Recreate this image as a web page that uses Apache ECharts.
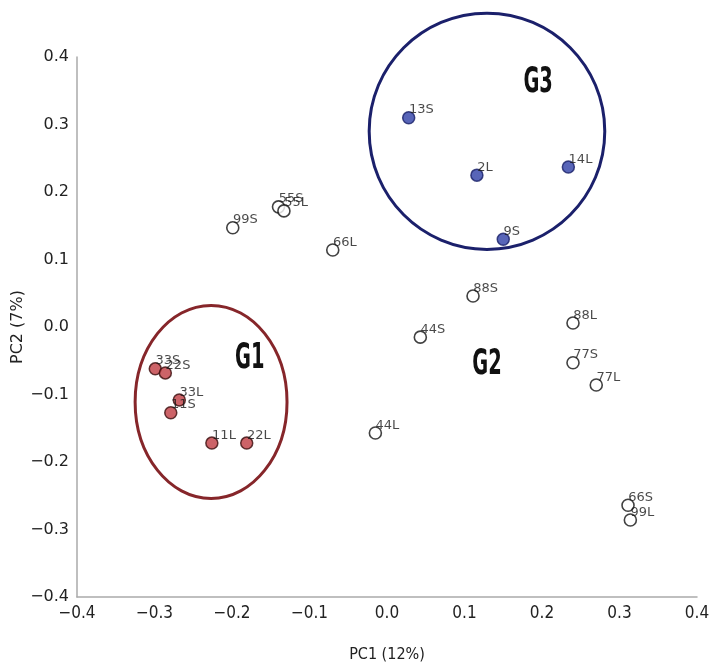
<!DOCTYPE html>
<html>
<head>
<meta charset="utf-8">
<script src="https://cdn.jsdelivr.net/npm/echarts@6/dist/echarts.min.js"></script>
<style>html,body{margin:0;padding:0;background:#fff;}#c{width:711px;height:667px;}</style>
</head>
<body>
<div id="c"></div>
<script>
// Group G1 (red filled)
const g1Names = ['33S', '22S', '33L', '11S', '11L', '22L'];
const g1X = [-0.299, -0.286, -0.268, -0.279, -0.226, -0.181];
const g1Y = [-0.062, -0.068, -0.108, -0.127, -0.172, -0.172];
// Group G3 (blue filled)
const g3Names = ['13S', '2L', '14L', '9S'];
const g3X = [0.028, 0.116, 0.234, 0.150];
const g3Y = [0.310, 0.225, 0.237, 0.130];
// Open circles
const openNames = ['99S', '55S', '55L', '66L', '88S', '44S', '88L', '77S', '77L', '44L', '66S', '99L'];
const openX = [-0.199, -0.140, -0.133, -0.070, 0.111, 0.043, 0.240, 0.240, 0.270, -0.015, 0.311, 0.314];
const openY = [0.147, 0.178, 0.172, 0.114, 0.046, -0.015, 0.006, -0.053, -0.086, -0.157, -0.264, -0.286];
// Group ellipses: centre x, centre y, radius x, radius y (data units)
const ellipseG1 = [-0.227, -0.111, 0.098, 0.143];
const ellipseG3 = [0.129, 0.290, 0.152, 0.175];
// Group labels
const groupLabels = ['G1', 'G2', 'G3'];
const groupX = [-0.177, 0.129, 0.195];
const groupY = [-0.047, -0.056, 0.362];
// Axes
const axisMin = -0.4, axisMax = 0.4, axisStep = 0.1;
const xName = 'PC1 (12%)';
const yName = 'PC2 (7%)';

function pts(names, xs, ys) {
  return names.map((n, i) => ({ name: n, value: [xs[i], ys[i]] }));
}
const fmt = v => (v < 0 ? '\u2212' : '') + Math.abs(v).toFixed(1);

const pointLabel = {
  show: true,
  formatter: p => p.name,
  position: [7, -1],
  verticalAlign: 'middle',
  align: 'left',
  fontFamily: 'DejaVu Sans',
  fontSize: 13,
  color: '#1a1a1a'
};

function ellipseSeries(e, color) {
  return {
    type: 'custom',
    z: 1,
    silent: true,
    clip: false,
    data: [e],
    renderItem: function (params, api) {
      const c = api.coord([api.value(0), api.value(1)]);
      const s = api.size([api.value(2), api.value(3)]);
      return {
        type: 'ellipse',
        shape: { cx: c[0], cy: c[1], rx: s[0], ry: s[1] },
        style: { fill: 'none', stroke: color, lineWidth: 3 }
      };
    }
  };
}

const chart = echarts.init(document.getElementById('c'));
chart.setOption({
  animation: false,
  backgroundColor: '#fff',
  grid: { left: 77, right: 14, top: 57, bottom: 70, containLabel: false, outerBoundsMode: 'none' },
  xAxis: {
    type: 'value', min: axisMin, max: axisMax, interval: axisStep,
    name: xName, nameLocation: 'middle', nameGap: 50, nameMoveOverlap: false,
    nameTextStyle: { fontFamily: "'DejaVu Sans Condensed', 'DejaVu Sans'", fontSize: 16, color: '#222' },
    axisLine: { show: true, onZero: false, lineStyle: { color: '#aaaaaa', width: 1.5 } },
    axisTick: { show: false },
    splitLine: { show: false },
    axisLabel: { formatter: fmt, margin: 8, fontFamily: "'DejaVu Sans Condensed', 'DejaVu Sans'", fontSize: 17, color: '#222' }
  },
  yAxis: {
    type: 'value', min: axisMin, max: axisMax, interval: axisStep,
    name: yName, nameLocation: 'middle', nameGap: 51, nameRotate: 90, nameMoveOverlap: false,
    nameTextStyle: { fontFamily: 'DejaVu Sans', fontSize: 16, color: '#222' },
    axisLine: { show: true, onZero: false, lineStyle: { color: '#aaaaaa', width: 1.5 } },
    axisTick: { show: false },
    splitLine: { show: false },
    axisLabel: { formatter: fmt, margin: 8, fontFamily: 'DejaVu Sans', fontSize: 16, color: '#222' }
  },
  series: [
    ellipseSeries(ellipseG1, '#86262a'),
    ellipseSeries(ellipseG3, '#1b206b'),
    {
      type: 'scatter', z: 3, symbolSize: 12,
      data: pts(openNames, openX, openY),
      itemStyle: { color: '#ffffff', borderColor: '#111', borderWidth: 1.6 },
      label: pointLabel
    },
    {
      type: 'scatter', z: 3, symbolSize: 12,
      data: pts(g1Names, g1X, g1Y),
      itemStyle: { color: '#bf3c42', borderColor: '#3a0c0c', borderWidth: 1.5 },
      label: pointLabel
    },
    {
      type: 'scatter', z: 3, symbolSize: 12,
      data: pts(g3Names, g3X, g3Y),
      itemStyle: { color: '#2e3fa6', borderColor: '#161e66', borderWidth: 1.5 },
      label: pointLabel
    },
    {
      type: 'custom', z: 4, silent: true, clip: false,
      data: groupLabels.map((g, i) => [groupX[i], groupY[i], g]),
      renderItem: function (params, api) {
        const c = api.coord([api.value(0), api.value(1)]);
        return {
          type: 'text',
          x: c[0], y: c[1],
          scaleX: 0.6,
          style: {
            text: groupLabels[params.dataIndex],
            x: 0, y: 0,
            align: 'center', verticalAlign: 'middle',
            font: "bold 36px 'DejaVu Sans Condensed', 'DejaVu Sans'",
            fill: '#111'
          }
        };
      }
    }
  ]
});
</script>
</body>
</html>
